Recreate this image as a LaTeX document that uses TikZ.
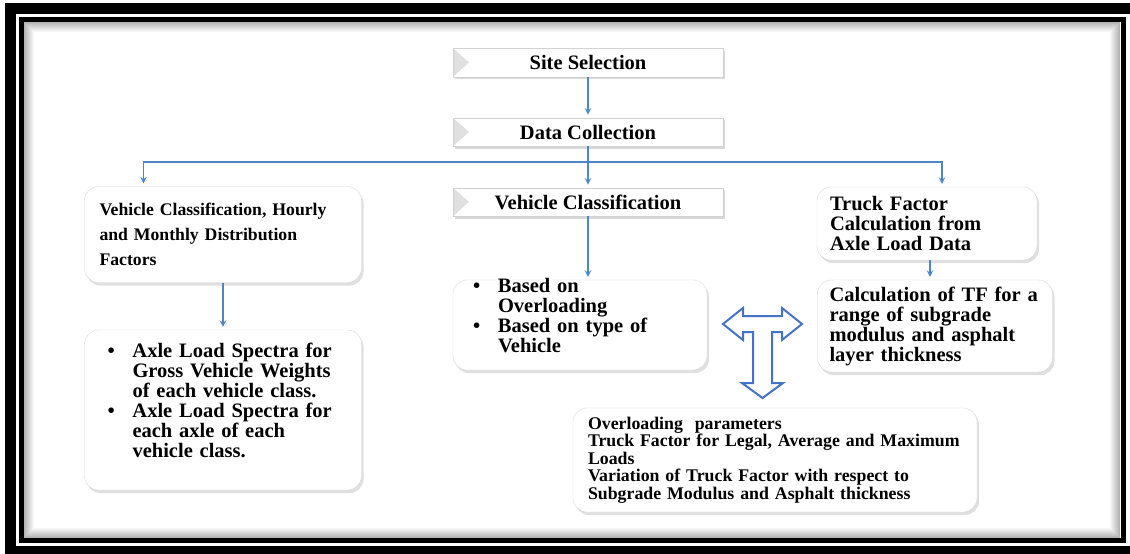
\documentclass[tikz,border=0pt]{standalone}
\usepackage{fontspec}
\setmainfont{Liberation Serif}
\usetikzlibrary{shapes, arrows, positioning, shadows}
\definecolor{linkblue}{RGB}{74,134,200}
\definecolor{arrowblue}{RGB}{68,114,196}
\newcommand{\bitem}{\makebox[34pt][l]{\hspace{9pt}\textbullet}}
\newcommand{\bskip}{\hspace*{34pt}}

\begin{document}
\begin{tikzpicture}[x=1pt, y=-1pt, node distance=70pt, auto]
    \tikzstyle{block} = [rectangle, draw=gray!35, fill=white, minimum width=270pt, minimum height=28.5pt, inner sep=0pt, font=\fontsize{20.5}{20}\selectfont\bfseries, drop shadow={shadow xshift=1.5pt, shadow yshift=-2.5pt, opacity=0.3}, path picture={\shade [left color=gray!25, right color=white] (path picture bounding box.north west) -- ([xshift=16pt]path picture bounding box.west) -- (path picture bounding box.south west) -- cycle;}]
    \tikzstyle{rbox} = [rectangle, draw=gray!30, fill=white, rounded corners=14pt, align=left, inner ysep=0pt, font=\fontsize{20.5}{20}\selectfont\bfseries, drop shadow={shadow xshift=2pt, shadow yshift=-3pt, opacity=0.25}]
    \tikzstyle{arrow} = [linkblue, line width=1.8pt, ->, >=stealth, shorten >=3pt]
    \tikzstyle{tarrow} = [arrowblue, line width=2pt, fill=white, line join=miter]

    \useasboundingbox (0,0) rectangle (1130,554);

    % frame
    \fill [white] (0,0) rectangle (1130,554);
    \fill [black] (5,3) rectangle (1130,554);
    \fill [white] (16,14) rectangle (1130,546);
    \draw [black, line width=5pt] (21.5,19.5) rectangle (1123,540.5);
    \foreach \i [evaluate=\i as \op using {0.3*(11-\i)/10}] in {1,...,10}
        \draw [black, opacity=\op, line width=1pt] (23.5+\i,21.5+\i) rectangle (1120.5-\i,538.5-\i);

    \node [block] (site) at (588,62.5) {Site Selection};
    \node [block, below of=site, node distance=69.5pt] (data) {Data Collection};
    \node [block, below of=data, node distance=70pt] (vclass) {Vehicle Classification};
    \coordinate [below of=data, node distance=29.7pt] (fork);

    \node [rbox, left of=vclass, node distance=365pt, yshift=-32.5pt, text width=247pt, inner xsep=15pt, minimum height=96pt, font=\fontsize{17.7}{25.3}\selectfont\bfseries] (hourly) {Vehicle Classification, Hourly\\ and Monthly Distribution\\ Factors};
    \node [rbox, below of=hourly, node distance=175.5pt, text width=249pt, inner xsep=14pt, minimum height=160pt] (spectra) {\smash{\bitem Axle Load Spectra for}\\ \bskip Gross Vehicle Weights\\ \bskip of each vehicle class.\\ \bitem Axle Load Spectra for\\ \bskip each axle of each\\ \bskip vehicle class.\rule[-6pt]{0pt}{0pt}};
    \node [rbox, below of=vclass, node distance=123pt, xshift=-8pt, text width=232pt, inner xsep=11pt, minimum height=90pt] (basis) {\smash{\bitem Based on}\\ \bskip Overloading\\ \bitem Based on type of\\ \bskip Vehicle\rule[-6pt]{0pt}{0pt}};
    \node [rbox, right of=vclass, node distance=339pt, yshift=-21.5pt, text width=194pt, inner xsep=13pt, minimum height=73pt] (truck) {Truck Factor\\ Calculation from\\ Axle Load Data};
    \node [rbox, below of=truck, node distance=102.5pt, xshift=8pt, text width=211pt, inner xsep=12pt, minimum height=92pt] (tfcalc) {Calculation of TF for a\\ range of subgrade\\ modulus and asphalt\\ layer thickness};
    \node [rbox, below of=tfcalc, node distance=134pt, xshift=-160pt, text width=374pt, inner xsep=15pt, minimum height=104pt, font=\fontsize{17.8}{17.5}\selectfont\bfseries] (results) {Overloading~ parameters\\ Truck Factor for Legal, Average and Maximum\\ Loads\\ Variation of Truck Factor with respect to\\ Subgrade Modulus and Asphalt thickness};

    \draw [arrow] (site) -- (data);
    \draw [arrow] (data) -- (fork) -| ([xshift=-79.5pt]hourly.north);
    \draw [arrow] (fork) -| ([xshift=15pt]truck.north);
    \draw [arrow] (fork) -- (vclass);
    \draw [arrow] (vclass) -- (vclass |- basis.north);
    \draw [arrow] (hourly) -- (spectra);
    \draw [arrow] ([xshift=3pt]truck.south) -- ([xshift=3pt]truck.south |- tfcalc.north);

    % T-shaped block arrow
    \draw [tarrow] (723,324) -- (743,308) -- (743,316) -- (782,316) -- (782,308) -- (802,324) -- (782,340) -- (782,332) -- (772,332) -- (772,383) -- (783,383) -- (762.5,398) -- (742,383) -- (753,383) -- (753,332) -- (743,332) -- (743,340) -- cycle;
\end{tikzpicture}
\end{document}
